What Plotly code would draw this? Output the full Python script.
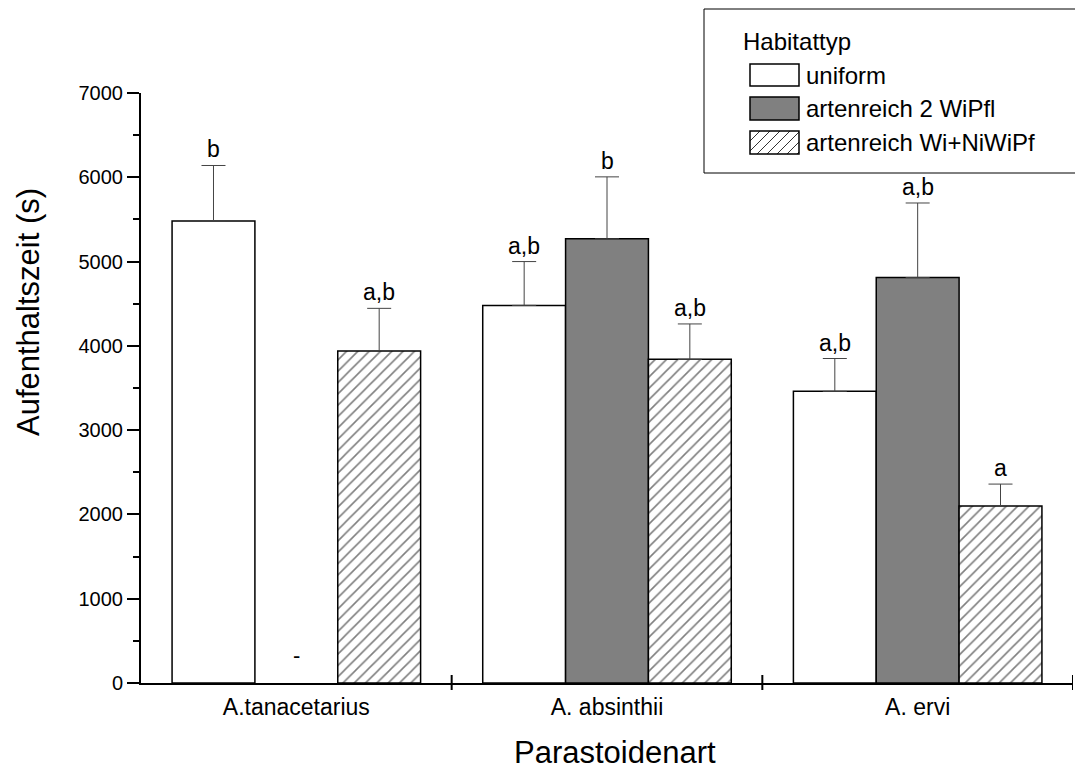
import plotly.graph_objects as go

categories = ["A.tanacetarius", "A. absinthii", "A. ervi"]
series_names = ["uniform", "artenreich 2 WiPfl", "artenreich Wi+NiWiPf"]
uniform_vals = [5480, 4480, 3460]
uniform_err = [660, 520, 390]
grey_vals = [None, 5270, 4810]
grey_err = [0, 735, 885]
hatch_vals = [3940, 3840, 2100]
hatch_err = [505, 420, 260]
letters = [["b", "-", "a,b"], ["a,b", "b", "a,b"], ["a,b", "a,b", "a"]]

FONT = "Liberation Sans, Arial, sans-serif"
W, H = 1075, 769
L, R, T, B = 141, 2, 93, 86
PW, PH = W - L - R, H - T - B

def px2x(p):
    return (p - L) / PW

def py2y(p):
    return (H - B - p) / PH

fig = go.Figure()
line_style = dict(color="black", width=1.5)
err_style = dict(type="data", symmetric=False, arrayminus=[0, 0, 0],
                 color="#444444", thickness=1, width=12)

fig.add_trace(go.Bar(x=categories, y=uniform_vals, name=series_names[0],
                     marker=dict(color="white", line=line_style),
                     error_y=dict(array=uniform_err, **err_style)))
fig.add_trace(go.Bar(x=categories, y=grey_vals, name=series_names[1],
                     marker=dict(color="#808080", line=line_style),
                     error_y=dict(array=grey_err, **err_style)))
fig.add_trace(go.Bar(x=categories, y=hatch_vals, name=series_names[2],
                     marker=dict(color="white", line=line_style,
                                 pattern=dict(shape="/", size=8, solidity=0.2,
                                              fgcolor="black", bgcolor="white")),
                     error_y=dict(array=hatch_err, **err_style)))

bar_w = 0.8 / 3
annotations = []
all_vals = [uniform_vals, grey_vals, hatch_vals]
all_errs = [uniform_err, grey_err, hatch_err]
for ci in range(len(categories)):
    for si in range(3):
        v = all_vals[si][ci]
        xpos = ci + (si - 1) * bar_w
        if v is None:
            annotations.append(dict(x=xpos, y=330, xref="x", yref="y", text=letters[ci][si],
                                    showarrow=False, font=dict(family=FONT, size=22, color="black")))
        else:
            top = v + all_errs[si][ci]
            annotations.append(dict(x=xpos, y=top, xref="x", yref="y", text=letters[ci][si],
                                    showarrow=False, yanchor="bottom", yshift=1,
                                    font=dict(family=FONT, size=23, color="black")))

shapes = []
# category boundary ticks crossing the x axis
for b in [0.5, 1.5, 2.5]:
    shapes.append(dict(type="line", xref="x", yref="paper", x0=b, x1=b,
                       y0=-7 / PH, y1=8 / PH, line=dict(color="black", width=2)))

# manual legend
shapes.append(dict(type="rect", xref="paper", yref="paper",
                   x0=px2x(704), x1=px2x(1085), y0=py2y(173), y1=py2y(9),
                   line=dict(color="black", width=1), fillcolor="white", layer="above"))
swatches = [(64, 86, "white"), (97, 120, "#808080"), (131, 154, "white")]
for (top, bot, col), name in zip(swatches, series_names):
    shapes.append(dict(type="rect", xref="paper", yref="paper",
                       x0=px2x(750), x1=px2x(799), y0=py2y(bot), y1=py2y(top),
                       line=dict(color="black", width=1.5), fillcolor=col, layer="above"))
    annotations.append(dict(x=px2x(804), y=py2y((top + bot) / 2), xref="paper", yref="paper",
                            text=name, showarrow=False, xanchor="left", yanchor="middle",
                            font=dict(family=FONT, size=24, color="black")))
# hatch lines in last swatch
top, bot = 131, 154
lft, rgt = 750, 799
h = bot - top
c = lft - h
while c < rgt:
    x0, y0 = c, bot
    x1, y1 = c + h, top
    if x0 < lft:
        y0 = bot - (lft - x0)
        x0 = lft
    if x1 > rgt:
        y1 = top + (x1 - rgt)
        x1 = rgt
    if x1 > x0:
        shapes.append(dict(type="line", xref="paper", yref="paper",
                           x0=px2x(x0), x1=px2x(x1), y0=py2y(y0), y1=py2y(y1),
                           line=dict(color="black", width=0.8), layer="above"))
    c += 10
annotations.append(dict(x=px2x(741), y=py2y(42), xref="paper", yref="paper",
                        text="Habitattyp", showarrow=False, xanchor="left", yanchor="middle",
                        font=dict(family=FONT, size=24, color="black")))

# axis titles
annotations.append(dict(x=px2x(615), y=py2y(752), xref="paper", yref="paper",
                        text="Parastoidenart", showarrow=False, xanchor="center", yanchor="middle",
                        font=dict(family=FONT, size=31, color="black")))
annotations.append(dict(x=px2x(28), y=py2y(312), xref="paper", yref="paper",
                        text="Aufenthaltszeit (s)", showarrow=False, textangle=-90,
                        xanchor="center", yanchor="middle",
                        font=dict(family=FONT, size=31, color="black")))

fig.update_layout(
    width=W, height=H,
    margin=dict(l=L, r=R, t=T, b=B),
    paper_bgcolor="white", plot_bgcolor="white",
    barmode="group", bargap=0.2, bargroupgap=0,
    showlegend=False,
    font=dict(family=FONT, color="black"),
    annotations=annotations, shapes=shapes,
)
fig.update_xaxes(range=[-0.5, 2.5], showline=True, linecolor="black", linewidth=2,
                 ticks="", showgrid=False, tickfont=dict(size=23, family=FONT),
                 ticklabelstandoff=2)
fig.update_yaxes(range=[0, 7000], showline=True, linecolor="black", linewidth=2,
                 ticks="outside", ticklen=12, tickwidth=2, tickcolor="black", dtick=1000,
                 minor=dict(ticks="outside", ticklen=6, tickwidth=2, dtick=500, tickcolor="black"),
                 showgrid=False, zeroline=False, tickfont=dict(size=20, family=FONT))

fig.write_html("out.html")
